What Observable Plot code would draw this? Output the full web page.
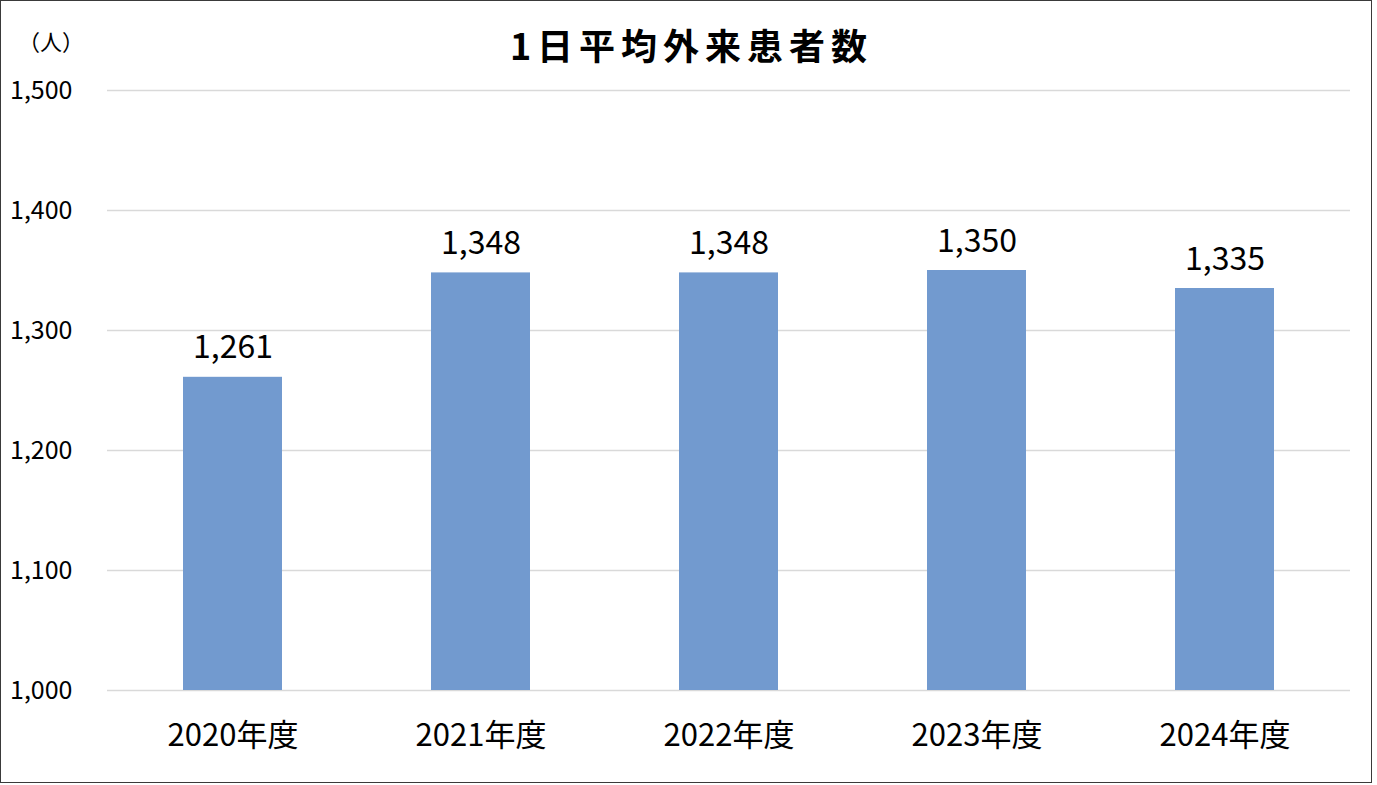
<!DOCTYPE html>
<html>
<head>
<meta charset="utf-8">
<script src="https://cdn.jsdelivr.net/npm/d3@7"></script>
<script src="https://cdn.jsdelivr.net/npm/@observablehq/plot@0.6"></script>
<style>
  html, body { margin: 0; padding: 0; background: #fff; }
  #wrap { position: relative; width: 1377px; height: 785px; overflow: hidden;
          font-family: "Noto Sans CJK JP", "Noto Sans", sans-serif; }
  #frame { position: absolute; left: 0; top: 0; width: 1370px; height: 781px;
           border: 1.5px solid #3a3a3a; pointer-events: none; }
  #title { position: absolute; left: 3px; width: 1377px; top: 22px; text-align: center;
           font-size: 36px; font-weight: bold; letter-spacing: 6px; color: #000;
           line-height: 44px; }
  #unit { position: absolute; left: 18px; top: 24px; font-size: 22px; color: #000; }
  #chart { position: absolute; left: 0; top: 0; }
</style>
</head>
<body>
<div id="wrap">
  <div id="chart"></div>
  <div id="title">1日平均外来患者数</div>
  <div id="unit">（人）</div>
  <div id="frame"></div>
</div>
<script>
const years = ["2020年度", "2021年度", "2022年度", "2023年度", "2024年度"];
const patients = [1261, 1348, 1348, 1350, 1335];
const yTicks = [1000, 1100, 1200, 1300, 1400, 1500];

const data = years.map((y, i) => ({year: y, value: patients[i]}));
const fmt = d3.format(",");

const chart = Plot.plot({
  width: 1377,
  height: 785,
  marginLeft: 107,
  marginRight: 27,
  marginTop: 90,
  marginBottom: 95,
  style: {fontFamily: '"Noto Sans CJK JP", "Noto Sans", sans-serif', background: "transparent", color: "#000"},
  x: {domain: years, paddingInner: 0.6, paddingOuter: 0.3, label: null},
  y: {domain: [1000, 1500], label: null},
  marks: [
    Plot.gridY(yTicks, {stroke: "#d9d9d9", strokeOpacity: 1, strokeWidth: 1.5}),
    Plot.barY(data, {x: "year", y1: 1000, y2: "value", fill: "#729acf"}),
    Plot.text(data, {x: "year", y: "value", text: d => fmt(d.value), lineAnchor: "bottom", dy: -19, fontSize: 32, fill: "#000"}),
    Plot.axisY(yTicks, {tickSize: 0, tickPadding: 35, tickFormat: fmt, fontSize: 25, label: null, fill: "#000"}),
    Plot.axisX({tickSize: 0, tickPadding: 33, fontSize: 31, label: null, fill: "#000"})
  ]
});
document.getElementById("chart").appendChild(chart);
</script>
</body>
</html>
